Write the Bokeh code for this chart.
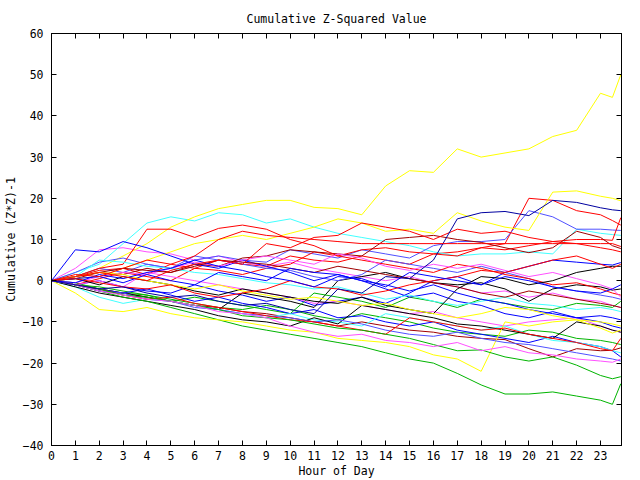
from bokeh.plotting import figure
from bokeh.models import Range1d, LinearAxis, FixedTicker
from bokeh.embed import file_html
from bokeh.resources import INLINE

TITLE = "Cumulative Z-Squared Value"
X_LABEL = "Hour of Day"
Y_LABEL = "Cumulative (Z*Z)-1"

hours = list(range(24)) + [23.5, 23.85]
x_ticks = list(range(24))
y_ticks = [-40, -30, -20, -10, 0, 10, 20, 30, 40, 50, 60]

yel1 = [0, 1, 3, 6, 9, 13, 15.5, 17.5, 18.5, 19.5, 19.5, 17.8, 17.5, 16, 23, 26.7, 26.3, 32, 30, 31, 32, 35, 36.5, 45.5, 44.5, 50]
yel2 = [0, 0.5, 1, 3, 5, 7, 9, 10, 11, 10, 11.5, 13, 15, 14, 12, 12.5, 11.5, 16.5, 14.5, 13, 12.2, 21.5, 21.8, 20.5, 20, 19.4]
yel3 = [0, -3, -7, -7.5, -6.5, -8, -9, -9.5, -10, -11, -12, -12.5, -14, -14.5, -15, -16, -18, -19, -22, -10, -11, -10, -9.5, -11.5, -12.7, -12]
yel4 = [0, 1, 2, 1.5, 0, -1, -2, -1, -2.5, -3.5, -4.5, -4, -5, -6, -5.5, -7, -8, -9, -8, -6.5, -7, -8.5, -9.5, -10, -10.5, -11]
green1 = [0, -1, -2.5, -4, -5, -6.5, -8, -9.5, -11, -12, -13, -14, -15, -16, -17.5, -19, -20, -22.5, -25.3, -27.5, -27.5, -27, -28, -29, -30, -25]
green2 = [0, -1, -2, -3.5, -4, -5, -6, -7, -8.5, -9, -9.5, -10.5, -11.5, -12, -13, -14, -15.5, -17, -16.8, -18.5, -19.5, -18.5, -20.5, -23, -23.8, -23.3]
green3 = [0, -0.5, -2, -3, -3.5, -4.5, -5.5, -6.5, -7, -6, -7, -8.5, -9.5, -8, -9, -10, -11.5, -12.5, -13, -13.5, -12, -12.5, -14, -14.5, -15, -15.5]
green4 = [0, -1, -1.5, -2.5, -3.5, -5, -4, -5, -6, -7, -8, -3, -4, -5, -6.5, -4, -5, -6.5, -4.5, -5.5, -6.5, -7, -5.5, -6, -6.5, -5]
darkred1 = [0, -1, -2, -3, -4, -5, -6, -6.5, -7.5, -8, -9, -10, -11, -10, -11, -12, -12.5, -13.5, -14, -14.3, -16.5, -18.5, -16.5, -17, -16.9, -16.3]
darkred2 = [0, 0.5, 2, 1.5, 3, 2, 4, 3.5, 5.5, 6, 7.5, 7, 6.5, 6, 10, 10.5, 11, 10, 9.3, 8, 6.8, 8, 12, 10.5, 8.5, 7.8]
darkred3 = [0, 1, 2, 3, 2.5, 2, 3.5, 5, 4.5, 4, 3, 2, 3.5, 2.5, 1.5, 0.5, -0.5, -1.5, -3, -4, -2.5, -3.5, -4.5, -5.5, -6, -6.5]
red2 = [0, 1, 2.5, 3, 1.5, 4, 3, 5, 4, 3.5, 6, 5, 4.5, 6, 5, 4, 6.5, 7, 8, 9, 20, 19.5, 17, 16, 14.6, 13.5]
redF = [0, 1.5, 1, 3, 5, 4, 6, 10, 12, 11, 10.5, 10, 9.5, 9, 9, 9, 9, 9, 9, 9, 9, 9, 9, 9, 9, 8.3]
red3 = [0, -1, 0.5, 2, 1, 0, 3, 2.5, 1.5, 3, 4, 7, 6, 7.5, 8, 7, 6.5, 6, 8, 7.5, 8.5, 9.5, 10, 10, 9.8, 15.3]
red4 = [0, 1, 3, 4, 12.5, 12.5, 10.5, 12.7, 13.5, 12.5, 10, 8.5, 6, 5, 4, 3, 2, 4, 3, 1.5, 0.5, -1, -0.5, -2, -3, -3.5]
red5 = [0, -1, -2, -3.5, -4.5, -4, -5.5, -6.5, -7.5, -8.5, -9.5, -10, -11, -12, -13, -9, -10, -11, -12, -11.5, -13, -14, -15, -16.5, -17, -14]
red6 = [0, 0.5, -0.5, -1.5, -2, -1, -3, -4, -3, -2, 0, -1.5, -2, -3.5, -2.5, -1, 0, 1, 2.5, 2, 3.5, 5, 6, 4, 3, 4]
red7 = [0, 1, 2, 1, 0, 2.5, 4, 5, 4, 9, 8, 10.5, 11, 14, 13, 12, 10, 12.5, 11.5, 12, 10.5, 9.5, 9, 8, 7.5, 7]
navy = [0, -1, -2, -1.5, -3, -4, -3.5, -5, -6, -5.5, -7, -8, -2, -3, 1, 0.5, 5, 15, 16.5, 16.8, 15.8, 19.5, 19, 17.7, 17.2, 17]
lblue1 = [0, 1, 3, 2, 4, 3, 5, 6, 5, 4.5, 7.5, 6.5, 5.5, 7.5, 6.5, 5.5, 8.5, 9.5, 9.5, 10, 17, 15.5, 12.5, 12.5, 12.3, 12.2]
lblue2 = [0, 2, 4.5, 5.5, 4, 3, 6, 5, 4, 3, 2.5, 1, 0, 1.5, 5, 4, 3, 2, 3.5, 2, 0.5, -1.5, -2.5, -3.5, -4, -4.5]
lblue3 = [0, -1, -2.5, -3, -4.5, -5, -6.5, -7, -8, -8.5, -9, -10, -9.5, -10.5, -12, -13, -13.5, -12.5, -14, -15, -15.5, -16.5, -17.5, -18.5, -19, -19.5]
blueA = [0, 7.5, 7, 9.5, 8, 6, 4, 3, 5, 3.5, 2, 0, 1.5, 0, -2, -4, -3, -5, -6, -8, -9, -7.5, -9, -10, -11, -11.5]
blue2 = [0, -1, 0, -1.5, -2.5, -3, -1, -2.5, -3.5, -5, -4, -6, -5, -4, -5.5, -3, 0, 1, -1, 2, 3.5, 5, 4.5, 4, 3.8, 4.4]
blue3 = [0, -1, -2, -3, -2, -3.5, -5, -4, -5.5, -6.5, -8, -7, -9, -8.5, -10, -11, -10, -12, -13, -14, -15, -13.5, -15, -16, -17, -18.5]
blue4 = [0, 0.5, 1, -0.5, 1.5, 0, -1, 2, 1, 0, 3, 2, 1.5, 0, -1, -2.5, -1, -3, -4.5, -5.5, -7, -8, -9, -8.5, -9, -9.5]
blue5 = [0, -0.5, 1.5, 0.5, 2, 3, 5, 3.5, 2.5, 1, 0, -1.5, 1, 0.5, -1.5, 2, 1, 0, -1, 1, 0, -1.5, -2.5, -3, -2, -1]
black1 = [0, -1, -2.5, -3, -4, -5, -6, -7, -3, -4, -5, -6.5, 0, 1, 2, 0.5, -0.5, -1, -0.5, -2, -5, -2, -1, -1.5, -2.3, -2]
black2 = [0, -1.5, -3, -4, -5, -6, -7, -8.5, -9.5, -10, -11, -9, -10.5, -6, -7, -8, -9, -10.5, -11, -12, -13, -14, -10, -11, -12, -12.5]
black3 = [0, 0.5, -1, 1, 0, -1, -2.5, -3.5, -2, -3, -4, -5, -5.5, -4, -6, -7, -8, -2, 1, 0.5, -1, 0, 2, 3, 3.5, 3.5]
mag1 = [0, 3, 7.5, 8, 7, 6.5, 5, 6, 4.5, 3.5, 4.5, 3, 2, 1, 0, 1, -0.5, -1.5, -3, -2.5, -4, -3, -4.5, -5, -6, -6.5]
mag2 = [0, -1, 0, -1.5, 2, 1, 0, -1, -2, -3, -4, -5.5, -5, -6, -7, -8, -7.5, -9, -10, -11, -10, -9.5, -9, -11, -12, -12.5]
mag3 = [0, -0.5, 1, 2, 1.5, 3, 4.5, 3.5, 5, 6, 5, 4, 6.5, 5.5, 3.5, 2.5, 4, 3, 4, 2.5, 1, 2, 0.5, -1, -2, -4]
mag4 = [0, -1, -2.5, -3.5, -4.5, -5, -6, -7.5, -8, -9, -11, -12.5, -13.5, -13, -14.5, -15, -16, -15, -17, -16, -17.5, -18, -19, -19.5, -19.8, -19]
cyan1 = [0, 2, 4, 9, 14, 15.5, 14.5, 16.5, 16, 14, 15, 13, 11.5, 10.5, 9.5, 8.5, 7, 6, 6.5, 6.5, 7, 6.5, 12.5, 11.5, 11.2, 11]
cyan2 = [0, -1.5, -4, -5.5, -4.5, -5, -6, -7, -8, -9, -8, -9.5, -10, -11, -8, -9, -10, -11, -12, -11, -13, -14.5, -15, -16, -17, -17.5]
cyan3 = [0, 1, 5, 4.5, 3.5, 3, 2, 1.5, 0.5, -0.5, -1, -2, -1.5, -3, -4.5, -3.5, -5, -6, -5, -4, -5.5, -6, -7, -6.5, -7, -7.5]

RED = "#ff0000"
GREEN = "#00b400"
BLUE = "#0000ff"
MAGENTA = "#ff50ff"
CYAN = "#40ffff"
DARKRED = "#a00000"
YELLOW = "#ffff00"
BLACK = "#000000"
LBLUE = "#5050ff"
NAVY = "#0000a0"

series = [
    (red2, RED), (green3, GREEN), (blue2, BLUE), (mag1, MAGENTA), (cyan1, CYAN),
    (darkred1, DARKRED), (yel1, YELLOW), (black1, BLACK), (lblue1, LBLUE),
    (red3, RED), (green4, GREEN), (blue3, BLUE), (mag2, MAGENTA), (cyan2, CYAN),
    (darkred2, DARKRED), (yel2, YELLOW), (black2, BLACK), (lblue2, LBLUE),
    (red4, RED), (green1, GREEN), (blueA, BLUE), (mag3, MAGENTA), (cyan3, CYAN),
    (darkred3, DARKRED), (yel3, YELLOW), (black3, BLACK), (lblue3, LBLUE),
    (red5, RED), (green2, GREEN), (blue4, BLUE), (mag4, MAGENTA), (yel4, YELLOW),
    (red6, RED), (blue5, BLUE), (red7, RED), (navy, NAVY), (redF, RED),
]

FONT = "DejaVu Sans Mono"
FS = "11.5px"

p = figure(width=640, height=480, x_range=Range1d(0, 23.88), y_range=Range1d(-40, 60),
           output_backend="svg", toolbar_location=None,
           min_border_left=51, min_border_right=19, min_border_top=33, min_border_bottom=34)

for vals, col in series:
    p.line(hours, vals, line_color=col, line_width=1)

p.xgrid.visible = False
p.ygrid.visible = False
p.outline_line_color = "black"
p.outline_line_alpha = 1.0
p.background_fill_color = "white"
p.border_fill_color = "white"

p.title.text = TITLE
p.title.align = "center"
p.title.text_font = FONT
p.title.text_font_size = FS
p.title.text_font_style = "normal"
p.title.text_color = "black"
p.title.standoff = 16

def style_axis(ax, show_labels):
    ax.major_tick_in = 5
    ax.major_tick_out = 0
    ax.minor_tick_line_color = None
    ax.axis_line_color = "black"
    ax.major_tick_line_color = "black"
    ax.major_label_text_font = FONT
    if show_labels:
        ax.major_label_text_font_size = FS
        ax.major_label_text_color = "black"
    else:
        ax.major_label_text_font_size = "0px"
        ax.major_label_text_color = None
        ax.major_label_standoff = 0
    ax.axis_label_text_font = FONT
    ax.axis_label_text_font_size = FS
    ax.axis_label_text_font_style = "normal"
    ax.axis_label_text_color = "black"

p.xaxis.ticker = FixedTicker(ticks=x_ticks)
p.yaxis.ticker = FixedTicker(ticks=y_ticks)
p.xaxis.axis_label = X_LABEL
p.yaxis.axis_label = Y_LABEL
style_axis(p.xaxis[0], True)
style_axis(p.yaxis[0], True)
p.xaxis.major_label_standoff = 5
p.xaxis.axis_label_standoff = 1
p.yaxis.major_label_standoff = 8
p.yaxis.axis_label_standoff = 2

top = LinearAxis(ticker=FixedTicker(ticks=x_ticks))
style_axis(top, False)
p.add_layout(top, "above")
right = LinearAxis(ticker=FixedTicker(ticks=y_ticks))
style_axis(right, False)
p.add_layout(right, "right")

open("out.html", "w").write(file_html(p, INLINE))
